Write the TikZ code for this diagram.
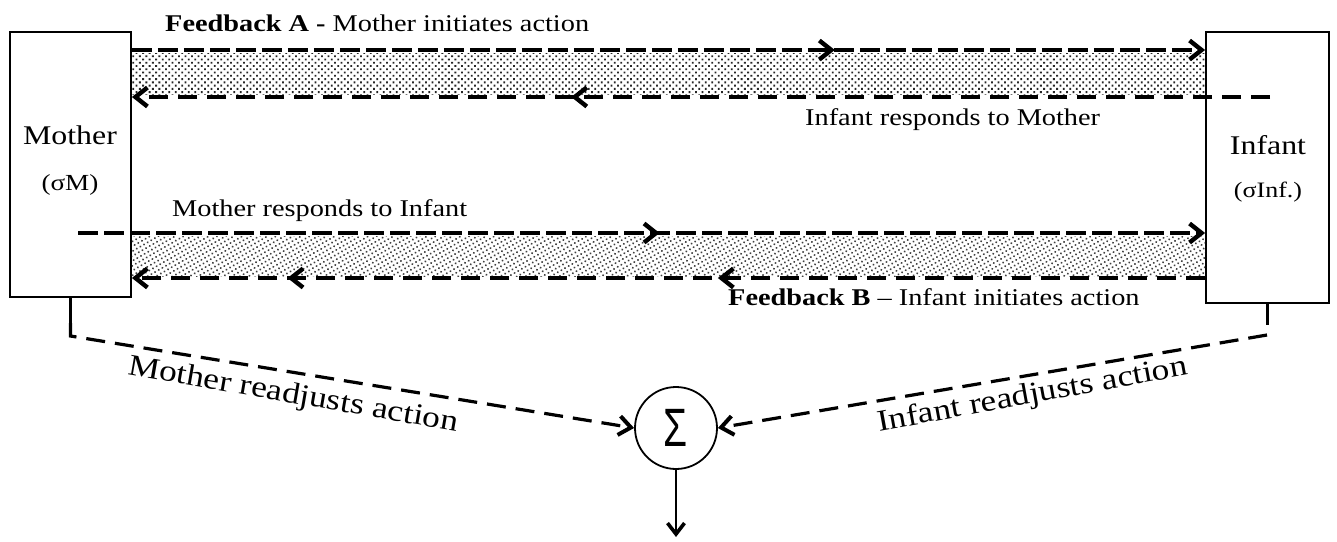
\documentclass[tikz,border=0pt]{standalone}
\usepackage{fontspec}
\usepackage{graphicx}
\setmainfont{Liberation Serif}[FakeStretch=1.18]
\newfontfamily\sigfont{Liberation Sans}
\usetikzlibrary{arrows.meta,patterns.meta,decorations.markings}
\tikzset{
  box/.style={draw, line width=1.8pt, inner sep=0pt},
  flow/.style={line width=4pt, dash pattern=on 20pt off 6pt, -{Straight Barb[length=12pt,width=19pt,line width=4.4pt]}},
  flowB/.style={line width=4pt, dash pattern=on 19pt off 10pt, -{Straight Barb[length=12pt,width=19pt,line width=4.4pt]}},
  midarrow/.style={postaction={decorate,decoration={markings,
     mark=at position #1 with {\arrow{Straight Barb[length=12pt,width=19pt,line width=4.4pt]}}}}},
  band/.style={pattern={Dots[distance=4.6pt,angle=45,radius=1.25pt]}, pattern color=black!85},
  bandB/.style={pattern={Dots[distance=4.2pt,angle=30,radius=1.1pt]}, pattern color=black!75},
  lbl/.style={font=\fontsize{24}{28}\selectfont, inner sep=0pt},
  rlbl/.style={font=\fontsize{30}{34}\selectfont, inner sep=0pt},
  conn/.style={line width=3.2pt, dash pattern=on 19pt off 10pt}
}
\begin{document}
\begin{tikzpicture}[x=1pt,y=-1pt]
\useasboundingbox (0,0) rectangle (1337,541);
% boxes
\node[box, minimum width=121pt, minimum height=265pt] (M) at (70.5,164.5) {};
\node[box, minimum width=123pt, minimum height=271pt] (I) at (1267.5,167.5) {};
\node[font=\fontsize{27}{30}\selectfont] (Mt) at (70,135) {Mother};
\node[font=\fontsize{23}{26}\selectfont] (Ms) at (70,185) {(σM)};
\node[font=\fontsize{27}{30}\selectfont] (It) at (1268,145) {Infant};
\node[font=\fontsize{22}{26}\selectfont] (Is) at (1268,192) {(σInf.)};
% bands
\fill[band] (M.east |- 0,53) rectangle (I.west |- 0,94);
\fill[bandB] (M.east |- 0,236) rectangle (I.west |- 0,276);
% coordinates
\coordinate (a1) at (M.east |- 0,50);
\coordinate (a2) at (I.west |- 0,50);
\coordinate (b1) at (1270,97);
\coordinate (b2) at (M.east |- 0,97);
\coordinate (c1) at (78,233);
\coordinate (c2) at (I.west |- 0,233);
\coordinate (d1) at (I.west |- 0,278);
\coordinate (d2) at (M.east |- 0,278);
% feedback A lines
\draw[flow, midarrow=0.655] (a1) -- (a2);
\draw[flowB, midarrow=0.614] (b1) -- (b2);
% feedback B lines
\draw[flow, midarrow=0.516] (c1) -- (c2);
\draw[flowB, midarrow=0.454, midarrow=0.855] (d1) -- (d2);
% labels
\node[lbl, anchor=base west] (fa) at (165,31) {\textbf{Feedback A -} Mother initiates action};
\node[lbl, anchor=base west] (ir) at (805,125) {Infant responds to Mother};
\node[lbl, anchor=base west] (mr) at (172,216) {Mother responds to Infant};
\node[lbl, anchor=base west] (fb) at (728,305) {\textbf{Feedback B} – Infant initiates action};
% sum
\node[draw, circle, line width=1.8pt, minimum size=82pt, inner sep=0pt] (S) at (676,428) {\sigfont\fontsize{54}{54}\selectfont\scalebox{0.72}[1]{Σ}};
\coordinate (out) at (676,537);
\draw[line width=2.6pt, -{Straight Barb[length=11pt,width=17pt,line width=3.6pt]}] (S.south) -- (out);
% readjust connectors
\coordinate (mk) at (M.south |- 0,336);
\coordinate (mj) at (M.south |- 0,323);
\coordinate (ik) at (I.south |- 0,325);
\coordinate (il) at (1267,335);
\draw[line width=3pt] (M.south) -- (mj);
\draw[line width=3pt] (I.south) -- (ik);
\draw[conn, -{Straight Barb[length=12pt,width=19pt,line width=4pt]}] (mj) -- (mk) -- (S.west);
\draw[conn, -{Straight Barb[length=12pt,width=19pt,line width=4pt]}] (il) -- (S.east);
\node[rlbl, anchor=base, rotate=-9.9] (mra) at (292,403) {Mother readjusts action};
\node[rlbl, anchor=base, rotate=10.4] (ira) at (1034,403) {Infant readjusts action};
\end{tikzpicture}
\end{document}
